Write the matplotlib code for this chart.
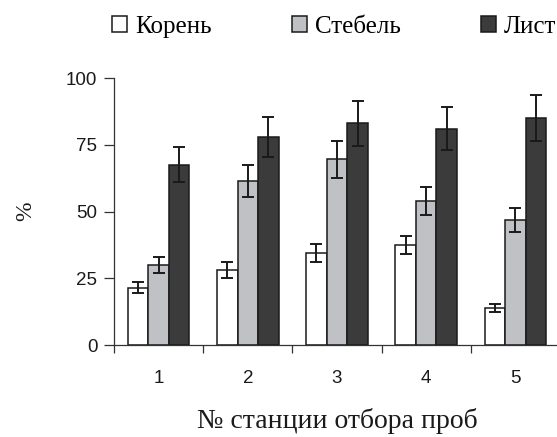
import matplotlib.pyplot as plt
import numpy as np
from matplotlib.patches import Patch

# sampling stations and share (%) per plant organ, with error
stations = ["1", "2", "3", "4", "5"]
series_names = ["Корень", "Стебель", "Лист"]
root = [21.5, 28.0, 34.5, 37.5, 14.0]
root_err = [2.0, 3.0, 3.3, 3.5, 1.5]
stem = [30.0, 61.5, 69.5, 54.0, 47.0]
stem_err = [3.0, 6.0, 7.0, 5.3, 4.5]
leaf = [67.5, 78.0, 83.0, 81.0, 85.0]
leaf_err = [6.5, 7.5, 8.5, 8.0, 8.5]
colors = ["#ffffff", "#c0c1c4", "#3b3b3b"]

serif = ["Liberation Serif", "DejaVu Serif"]
sans = ["Liberation Sans", "DejaVu Sans"]

fig = plt.figure(figsize=(5.57, 4.37), dpi=100)
ax = fig.add_axes([0.2047, 0.2105, 0.8007, 0.611])

x = np.arange(1, len(stations) + 1)
w = 0.23
data = [(root, root_err), (stem, stem_err), (leaf, leaf_err)]
for k, (vals, errs) in enumerate(data):
	ax.bar(x + (k - 1) * w, vals, w, color=colors[k], edgecolor="#1a1a1a",
		linewidth=1.1, zorder=2)
	ax.errorbar(x + (k - 1) * w, vals, yerr=errs, fmt="none", ecolor="#1a1a1a",
		elinewidth=1.4, capsize=4.5, capthick=1.4, zorder=3)

ax.set_xlim(0.5, 5.5)
ax.set_ylim(0, 100)
ax.spines["top"].set_visible(False)
ax.spines["right"].set_visible(False)
for s in ("left", "bottom"):
	ax.spines[s].set_color("#333333")
	ax.spines[s].set_linewidth(0.9)

ax.set_yticks([0, 25, 50, 75, 100])
ax.tick_params(axis="y", direction="out", length=7, width=0.9, color="#333333",
	labelsize=13.5, pad=5)
# ticks between stations, labels at the station centres
ax.set_xticks(np.arange(0.5, 6.0, 1.0))
ax.set_xticklabels([])
ax.set_xticks(x, minor=True)
ax.set_xticklabels(stations, minor=True)
ax.tick_params(axis="x", which="major", direction="out", length=6, width=0.9,
	color="#333333")
ax.tick_params(axis="x", which="minor", length=0, labelsize=13.5, pad=18)
for lab in ax.get_yticklabels() + ax.get_xticklabels(minor=True):
	lab.set_family(sans)
	lab.set_color("#1a1a1a")

ax.set_ylabel("%", family=serif, fontsize=17, color="#1a1a1a")
ax.yaxis.set_label_coords(-0.175, 0.5)
ax.set_xlabel("№ станции отбора проб", family=serif, fontsize=20,
	color="#1a1a1a", labelpad=15)

handles = [Patch(facecolor=c, edgecolor="#1a1a1a", linewidth=1.1) for c in colors]
fig.legend(handles, series_names, loc="upper left",
	bbox_to_anchor=(112 / 557, 1 - 16 / 437), ncol=3, frameon=False,
	prop={"family": serif, "size": 18}, handlelength=0.6, handleheight=0.6,
	handletextpad=0.32, columnspacing=3.2, borderpad=0, borderaxespad=0)

fig.savefig("out.png", dpi=100)
